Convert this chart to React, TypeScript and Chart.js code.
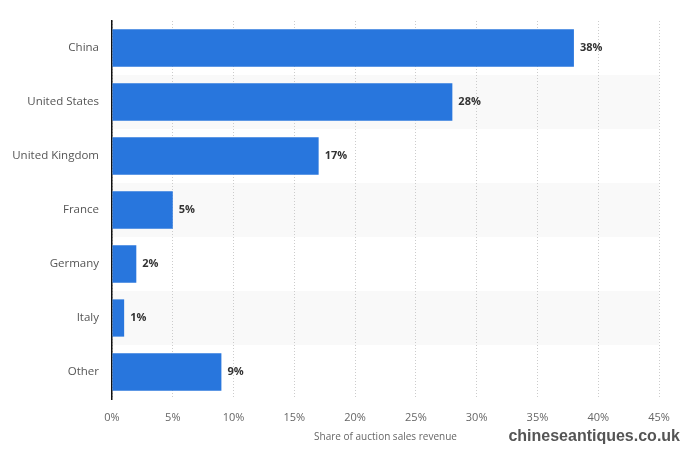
import { useEffect, useRef } from "react"
import { Chart, registerables } from "chart.js"

Chart.register(...registerables)

const countries = ["China", "United States", "United Kingdom", "France", "Germany", "Italy", "Other"]
const shares = [38, 28, 17, 5, 2, 1, 9]
const xTicks = [0, 5, 10, 15, 20, 25, 30, 35, 40, 45]

const FONT = "'Open Sans', 'Noto Sans', sans-serif"

// light stripes behind every second row
const rowBands = {
  id: "rowBands",
  beforeDraw(chart: any) {
    const { ctx, chartArea, scales } = chart
    const y = scales.y
    const step = (chartArea.bottom - chartArea.top) / countries.length
    ctx.save()
    ctx.fillStyle = "#f9f9f9"
    countries.forEach((_, i) => {
      if (i % 2 === 1) {
        const c = y.getPixelForValue(i)
        ctx.fillRect(chartArea.left, c - step / 2, chartArea.right - chartArea.left, step)
      }
    })
    ctx.restore()
  },
}

const valueLabels = {
  id: "valueLabels",
  afterDatasetsDraw(chart: any) {
    const { ctx } = chart
    const meta = chart.getDatasetMeta(0)
    ctx.save()
    ctx.font = `bold 11px ${FONT}`
    ctx.fillStyle = "#333"
    ctx.textBaseline = "middle"
    ctx.textAlign = "left"
    meta.data.forEach((bar: any, i: number) => {
      ctx.fillText(`${shares[i]}%`, bar.x + 6, bar.y)
    })
    ctx.restore()
  },
}

const watermark = {
  id: "watermark",
  afterDraw(chart: any) {
    const { ctx } = chart
    ctx.save()
    ctx.font = "bold 16px 'Liberation Sans', Arial, sans-serif"
    ctx.fillStyle = "#555"
    ctx.textAlign = "right"
    ctx.textBaseline = "middle"
    ctx.fillText("chineseantiques.co.uk", 680, 437)
    ctx.restore()
  },
}

export default function App() {
  const canvasRef = useRef<HTMLCanvasElement | null>(null)
  const chartRef = useRef<Chart | null>(null)

  useEffect(() => {
    if (!canvasRef.current) return
    const ctx = canvasRef.current.getContext("2d")
    if (!ctx) return

    chartRef.current = new Chart(ctx, {
      type: "bar",
      data: {
        labels: countries,
        datasets: [
          {
            data: shares,
            backgroundColor: "#2876dd",
            barPercentage: 0.69,
            categoryPercentage: 1,
          },
        ],
      },
      plugins: [rowBands, valueLabels, watermark],
      options: {
        indexAxis: "y",
        animation: false,
        responsive: true,
        maintainAspectRatio: false,
        layout: { padding: { top: 21, right: 27, bottom: 0, left: 0 } },
        plugins: {
          legend: { display: false },
          tooltip: { enabled: false },
        },
        scales: {
          x: {
            min: 0,
            max: 45,
            afterFit: (scale: any) => {
              scale.height = 52
            },
            afterBuildTicks: (scale: any) => {
              scale.ticks = xTicks.map((v) => ({ value: v }))
            },
            ticks: {
              padding: 12,
              color: "#666",
              font: { family: FONT, size: 11 },
              callback: (v: any) => `${v}%`,
            },
            grid: {
              drawTicks: false,
              color: "#cccccc",
              lineWidth: 1,
            },
            border: { display: false, dash: [1, 2] },
            title: {
              display: true,
              text: "Share of auction sales revenue",
              color: "#666",
              font: { family: FONT, size: 10 },
              padding: { top: 0, bottom: 8 },
            },
          },
          y: {
            afterFit: (scale: any) => {
              scale.width = 112
            },
            ticks: {
              padding: 13,
              color: "#555",
              font: { family: FONT, size: 11.5 },
            },
            grid: { display: false, drawTicks: false },
            border: { display: true, color: "#111", width: 1.5 },
          },
        },
      },
    })

    return () => {
      chartRef.current?.destroy()
      chartRef.current = null
    }
  }, [])

  return (
    <div style={{ position: "absolute", left: 0, top: 0, width: 686, height: 451, background: "#fff" }}>
      <canvas ref={canvasRef}></canvas>
    </div>
  )
}
